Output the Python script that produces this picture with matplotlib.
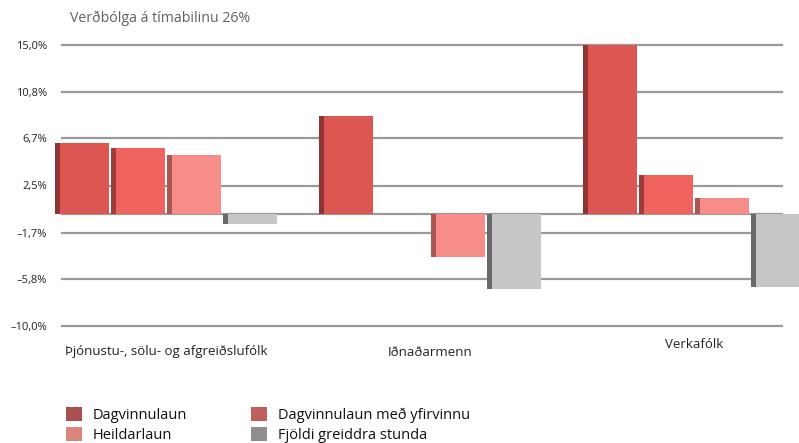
import numpy as np
import matplotlib
matplotlib.use("Agg")
import matplotlib.pyplot as plt
from matplotlib.patches import Patch

categories = ["Þjónustu-, sölu- og afgreiðslufólk", "Iðnaðarmenn", "Verkafólk"]
series = ["Dagvinnulaun", "Dagvinnulaun með yfirvinnu", "Heildarlaun", "Fjöldi greiddra stunda"]
dagvinnulaun = [6.3, 8.7, 15.0]
dagvinnulaun_yfirvinna = [5.8, np.nan, 3.4]
heildarlaun = [5.2, -3.9, 1.4]
fjoldi_stunda = [-0.9, -6.7, -6.5]
yticks = [15.0, 10.8, 6.7, 2.5, -1.7, -5.8, -10.0]
ytick_labels = ["15,0%", "10,8%", "6,7%", "2,5%", "–1,7%", "–5,8%", "–10,0%"]
title = "Verðbólga á tímabilinu 26%"

values = [dagvinnulaun, dagvinnulaun_yfirvinna, heildarlaun, fjoldi_stunda]
bar_colors = ["#dc5652", "#f0625e", "#f68d89", "#c6c6c6"]
side_colors = ["#5a1e1e", "#6a2424", "#7a3030", "#2a2a2a"]
legend_colors = ["#a9514f", "#c15e59", "#da847e", "#8f8f8f"]

plt.rcParams['font.family'] = ['Open Sans', 'DejaVu Sans']

fig = plt.figure(figsize=(7.99, 4.43), dpi=100)
ax = fig.add_axes([50/799, 1-340/443, 749/799, (340-30)/443])

ppu = (326 - 45) / 25.0
ytop = 15 + (45 - 30) / ppu
ybot = -10 - (340 - 326) / ppu
ax.set_ylim(ybot, ytop)

gspace = 264.0
slot = 56.0 / gspace
xleft = -(166 - 50) / gspace
xright = xleft + 749 / gspace
ax.set_xlim(xleft, xright)

gx0 = (62 - 50) / 749
gx1 = (782 - 50) / 749
for yv in yticks + [0.0]:
    ax.axhline(yv, xmin=gx0, xmax=gx1, color="#9a9a9a", lw=1.6, zorder=1)

x = np.arange(len(categories))
w = slot * 0.97
side_w = slot * 0.10
for i, vals in enumerate(values):
    pos = x + (i - 1.5) * slot
    v = np.array(vals, dtype=float)
    ax.bar(pos, v, width=w, color=bar_colors[i], zorder=3 + i * 0.1, linewidth=0)
    ax.bar(pos - w / 2 + side_w / 2, v, width=side_w, color=side_colors[i],
           alpha=0.6, zorder=3.05 + i * 0.1, linewidth=0)

ax.set_yticks(yticks)
ax.set_yticklabels(ytick_labels, fontsize=8, color="#222222")
ax.tick_params(axis='y', length=0, pad=2)
ax.set_xticks([])
for s in ax.spines.values():
    s.set_visible(False)
ax.patch.set_alpha(0)

label_y = [352, 352, 345]
for xi, cat, ly in zip(x, categories, label_y):
    ax.text(xi, -10 - (ly - 326) / ppu, cat, ha="center", va="center",
            fontsize=9.5, color="#222222")

fig.text(70/799, 1-18/443, title, ha="left", va="center", fontsize=10.2,
         color="#606060")

handles = [Patch(facecolor=c, edgecolor="none") for c in legend_colors]
order = [0, 2, 1, 3]
leg = fig.legend([handles[k] for k in order], [series[k] for k in order],
                 loc="lower left", bbox_to_anchor=(60/799, -6/443), ncol=2,
                 frameon=False, fontsize=10.5, handlelength=1.1, handleheight=1.1,
                 columnspacing=4.4, labelspacing=0.3, handletextpad=0.75,
                 borderaxespad=0.0)
for t in leg.get_texts():
    t.set_color("#111111")

fig.savefig("out.png", dpi=100)
